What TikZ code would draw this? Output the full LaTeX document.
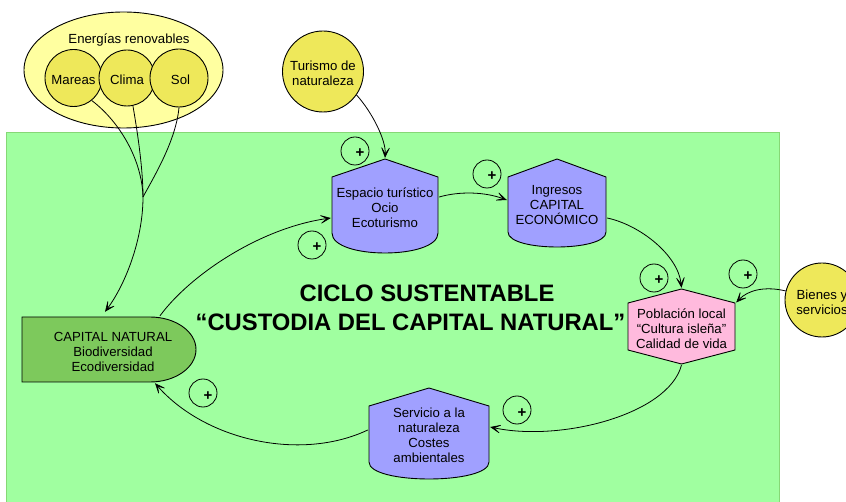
\documentclass[tikz,border=0pt]{standalone}
\usepackage{fontspec}
\setmainfont{Liberation Sans}
\usetikzlibrary{shapes.geometric,arrows.meta,calc}
\definecolor{bggreen}{HTML}{A0FFA0}
\definecolor{bgedge}{HTML}{86D876}
\definecolor{ellfill}{HTML}{FFFFA0}
\definecolor{yelfill}{HTML}{EEE85A}
\definecolor{boxblue}{HTML}{A0A0FF}
\definecolor{pinkfill}{HTML}{FFBADD}
\definecolor{natgreen}{HTML}{7DC95C}
\newcommand\plussign{\smash{\makebox[0pt]{\hspace*{10pt}\raisebox{-7pt}{\fontsize{15}{15}\selectfont\bfseries +}}}}
\newcommand\dn{\rule{0pt}{13.6pt}}
\tikzset{
  txt/.style={font=\fontsize{13.2}{15}\selectfont, align=center, text=black},
  yc/.style={txt, circle, draw, line width=0.9pt, fill=yelfill, inner sep=0pt},
  pl/.style={circle, draw, line width=0.8pt, minimum size=28, inner sep=0pt, font=\fontsize{13.2}{15}\selectfont},
  ln/.style={line width=0.8pt},
  arr/.style={ln, -{Stealth[length=13pt,width=11pt,inset=8.5pt,line width=0.6pt]}},
  house/.style n args={2}{txt, rectangle, inner sep=0pt, path picture={
    \draw[line width=0.9pt, fill=boxblue]
      let \p1=(path picture bounding box.north west), \p2=(path picture bounding box.south east) in
      (\x1+1pt,\y2+#2+1pt) -- (\x1+1pt,\y1-#1-1pt) -- ({(\x1+\x2)/2},\y1-1pt) -- (\x2-1pt,\y1-#1-1pt)
      -- (\x2-1pt,\y2+#2+1pt) .. controls (\x2-1pt,\y2+1pt-#2/3) and (\x1+1pt,\y2+1pt-#2/3) .. (\x1+1pt,\y2+#2+1pt) -- cycle;
  }},
  hexa/.style={txt, rectangle, inner sep=0pt, path picture={
    \draw[line width=0.9pt, fill=pinkfill]
      let \p1=(path picture bounding box.north west), \p2=(path picture bounding box.south east) in
      ({(\x1+\x2)/2},\y1-1pt) -- (\x1+1pt,\y1-15pt) -- (\x1+1pt,\y2+15pt) -- ({(\x1+\x2)/2},\y2+1pt)
      -- (\x2-1pt,\y2+15pt) -- (\x2-1pt,\y1-15pt) -- cycle;
  }},
  natbox/.style={txt, rectangle, inner sep=0pt, path picture={
    \draw[line width=0.9pt, fill=natgreen]
      let \p1=(path picture bounding box.north west), \p2=(path picture bounding box.south east) in
      (\x1+1pt,\y1-1pt) -- (\x2-47pt,\y1-1pt) arc[start angle=90, end angle=-90, x radius=46pt, y radius=32.5pt]
      -- (\x1+1pt,\y2+1pt) -- cycle;
  }},
}
\begin{document}
\begin{tikzpicture}[x=1pt,y=-1pt]
\useasboundingbox (0,0) rectangle (846,502);
% background field
\path[draw=bgedge, fill=bggreen, line width=1pt] (6.5,133) rectangle (779,515);

% renewable energies
\node[ellipse, draw, line width=0.9pt, fill=ellfill, minimum width=199, minimum height=116, inner sep=0pt] (ren) at (123.5,70) {};
\node[txt] (rentxt) at (129,38) {\dn Energías renovables};
\node[yc, minimum size=57] (mareas) at (73.5,78) {\dn Mareas};
\node[yc, minimum size=56] (clima) at (127,78) {\dn Clima};
\node[yc, minimum size=58] (sol) at (179,78) {\dn\hspace*{3pt}Sol};

\node[yc, minimum size=81] (tur) at (323,71.5) {\dn Turismo de\\naturaleza};
\node[yc, minimum size=74] (bien) at (822,300) {\dn Bienes y\\servicios};

% main boxes
\node[house={18pt}{20pt}, minimum width=108, minimum height=96] (esp) at (385,206) {\dn Espacio turístico\\Ocio\\Ecoturismo};
\node[house={18pt}{15pt}, minimum width=100, minimum height=90] (ing) at (557,203) {\dn Ingresos\\CAPITAL\\ECONÓMICO};
\node[house={18pt}{17pt}, minimum width=122, minimum height=93] (serv) at (429,433.5) {\dn Servicio a la\\naturaleza\\Costes\\ambientales};
\node[hexa, minimum width=109, minimum height=77] (pob) at (681.5,326.5) {\dn Población local\\“Cultura isleña”\\Calidad de vida};
\node[natbox, minimum width=176, minimum height=67] (capnat) at (109,349.5) {\dn\hspace*{8pt}CAPITAL NATURAL\\\hspace*{8pt}Biodiversidad\\\hspace*{8pt}Ecodiversidad};

% title
\node[font=\fontsize{23.8}{29}\selectfont\bfseries, align=center] (title) at (410.5,307.5)
  {\hspace*{33pt}CICLO SUSTENTABLE\\“CUSTODIA DEL CAPITAL NATURAL”};

% plus signs
\node[pl] (p1) at (355,151) {\plussign};
\node[pl] (p2) at (312,245) {\plussign};
\node[pl] (p3) at (487,174) {\plussign};
\node[pl] (p4) at (654,278) {\plussign};
\node[pl] (p5) at (743,274) {\plussign};
\node[pl] (p6) at (517,410) {\plussign};
\node[pl] (p7) at (203,393) {\plussign};

% connectors
\coordinate (J) at (143,197);
\draw[ln] (mareas.-51) .. controls (120,122) and (142,160) .. (J);
\draw[ln] (clima.-78) .. controls (138,135) and (143,170) .. (J);
\draw[ln] (sol.south) .. controls (176,140) and (155,175) .. (J);
\draw[arr] (J) .. controls (143,240) and (125,285) .. ([shift={(-4pt,4pt)}]capnat.north);
\draw[arr] (tur.-35) .. controls (372,112) and (386,140) .. (esp.north);
\draw[arr] ([xshift=51pt]capnat.north) .. controls (190,275) and (260,228) .. ([yshift=-12pt]esp.west);
\draw[arr] ([yshift=9pt]esp.east) .. controls (460,191) and (485,192) .. ([yshift=3pt]ing.west);
\draw[arr] ([yshift=-15pt]ing.east) .. controls (640,225) and (678,255) .. (pob.north);
\draw[arr] (bien.166) .. controls (765,286) and (748,290) .. ([yshift=24pt]pob.east);
\draw[arr] (pob.south) .. controls (668,415) and (560,442) .. ([yshift=6.5pt]serv.east);
\draw[arr] ([yshift=3.5pt]serv.west) .. controls (300,462) and (205,440) .. ([xshift=46pt]capnat.south);
\end{tikzpicture}
\end{document}
